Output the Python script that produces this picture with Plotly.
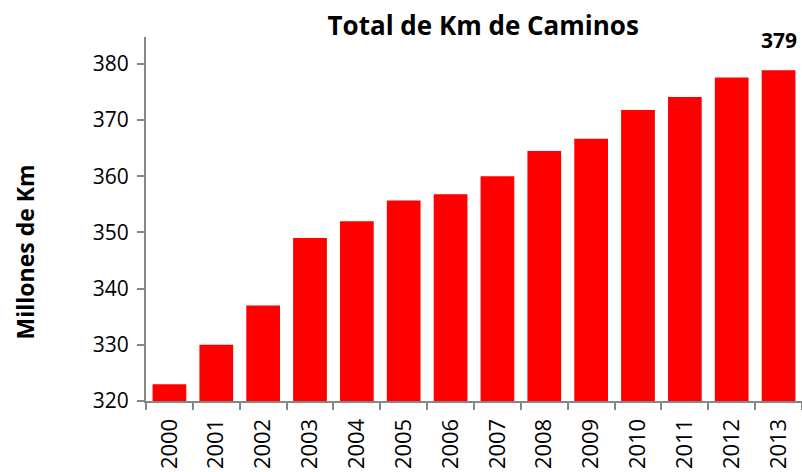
import plotly.graph_objects as go

years = ["2000", "2001", "2002", "2003", "2004", "2005", "2006", "2007",
         "2008", "2009", "2010", "2011", "2012", "2013"]
values = [323, 330, 337, 349, 352, 355.7, 356.8, 360, 364.5, 366.7, 371.8, 374.1, 377.6, 378.9]
label_year = "2013"
label_text = "379"

FONT = "Open Sans"

fig = go.Figure(go.Bar(
    x=years, y=values, marker=dict(color="#ff0000", line=dict(width=0)),
    width=0.72,
))

idx = years.index(label_year)
fig.add_annotation(
    x=idx, y=values[idx], xref="x", yref="y",
    text="<b>" + label_text + "</b>", showarrow=False, yanchor="bottom", yshift=14,
    font=dict(family=FONT, size=21, color="#000000"),
)
fig.add_annotation(
    x=-0.185, y=0.41, xref="paper", yref="paper", textangle=-90,
    text="<b>Millones de Km</b>", showarrow=False, xanchor="center", yanchor="middle",
    font=dict(family=FONT, size=23, color="#000000"),
)

fig.update_layout(
    width=802, height=472,
    margin=dict(l=146, r=0, t=37, b=71),
    paper_bgcolor="white", plot_bgcolor="white",
    font=dict(family=FONT, size=22, color="#000000"),
    showlegend=False,
    title=dict(text="<b>Total de Km de Caminos</b>", x=0.514, xref="paper", xanchor="center",
               y=0.945, yanchor="middle", font=dict(family=FONT, size=26, color="#000000")),
)
fig.update_xaxes(
    type="category", range=[-0.5, 13.5], showline=True, linecolor="#868686", linewidth=2,
    ticks="outside", tickson="boundaries", ticklen=7, tickcolor="#868686", tickwidth=2,
    tickangle=-90, showgrid=False, tickfont=dict(family=FONT, size=22), automargin=False,
    ticklabelstandoff=7,
)
fig.update_yaxes(
    range=[320, 384.8], tickvals=[320, 330, 340, 350, 360, 370, 380],
    showline=True, linecolor="#868686", linewidth=2,
    ticks="outside", ticklen=7, tickcolor="#868686", tickwidth=2,
    showgrid=False, zeroline=False, tickfont=dict(family=FONT, size=21), automargin=False,
    ticklabelstandoff=4,
)

fig.write_html(
    "out.html",
    config={"displayModeBar": False, "staticPlot": True},
    post_script="document.body.style.margin='0';document.body.style.overflow='hidden';",
)
